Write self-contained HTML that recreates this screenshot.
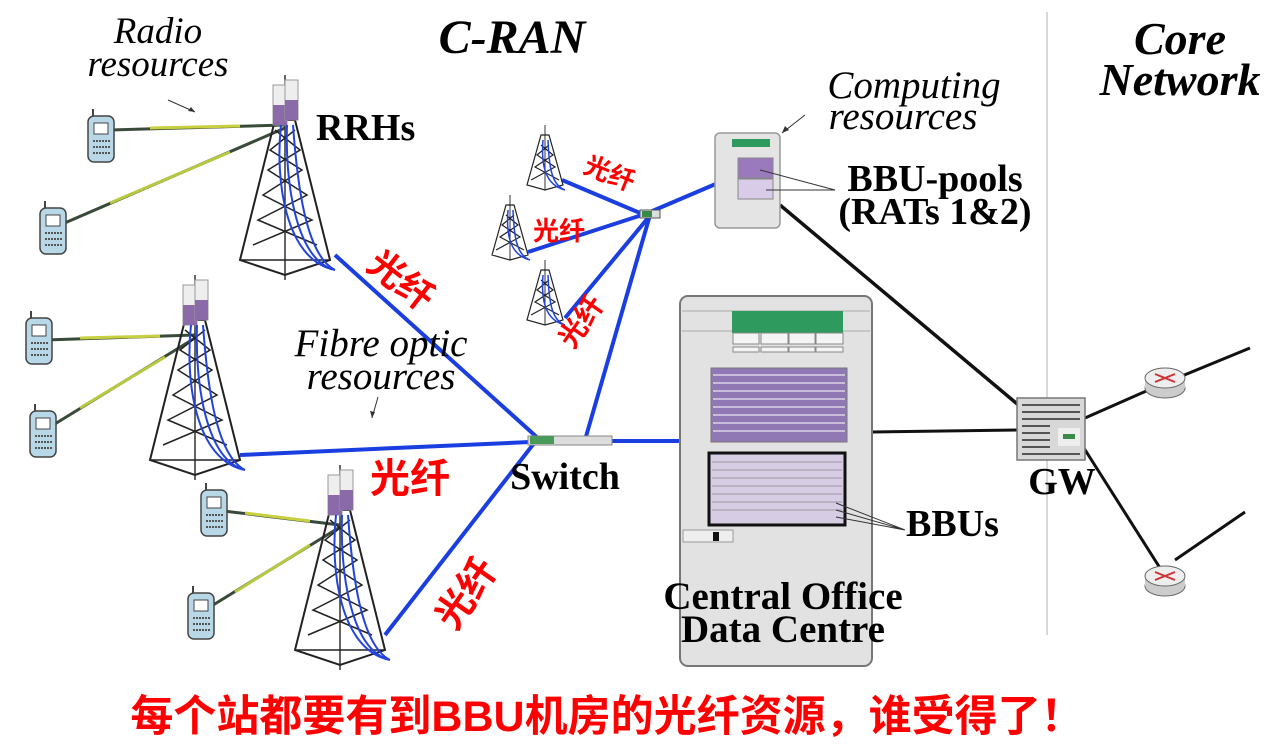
<!DOCTYPE html>
<html><head><meta charset="utf-8"><style>
body{margin:0;background:#fff;}
svg{display:block}
.it{font-family:"Liberation Serif",serif;font-style:italic;}
.b{font-family:"Liberation Serif",serif;font-weight:bold;}
.cn{font-family:"Liberation Sans","Noto Sans CJK SC",sans-serif;font-weight:bold;fill:#f00;}
</style></head><body>
<svg width="1268" height="748" viewBox="0 0 1268 748" xmlns="http://www.w3.org/2000/svg">
<defs>
<g id="tower">
 <line x1="0" y1="-45" x2="0" y2="160" stroke="#333" stroke-width="1.5"/>
 <path d="M-10 0 L-45 140 L0 155 L45 140 L10 0 Z" fill="none" stroke="#222" stroke-width="2"/>
 <path d="M-10 10 L15 30 L-17 50 L22 75 L-27 100 L32 125 M10 10 L-15 30 L17 50 L-22 75 L27 100 L-32 125 M-45 140 L45 140" fill="none" stroke="#222" stroke-width="1.5"/>
 <rect x="-12" y="-35" width="14" height="40" fill="#eee" stroke="#999"/>
 <rect x="-12" y="-15" width="14" height="20" fill="#8a6aa8"/>
 <rect x="0" y="-40" width="13" height="40" fill="#eee" stroke="#999"/>
 <rect x="0" y="-20" width="13" height="20" fill="#8a6aa8"/>
 <path d="M-4 5 C-10 60 0 140 50 150 M2 5 C0 60 10 140 50 150 M8 5 C12 60 20 135 50 150" fill="none" stroke="#2244dd" stroke-width="2"/>
</g>
<g id="stower">
 <line x1="0" y1="-10" x2="0" y2="55" stroke="#333"/>
 <path d="M-4 0 L-18 50 L0 55 L18 50 L4 0Z M-4 10 L8 20 L-10 32 L14 45 M4 10 L-8 20 L10 32 L-14 45" fill="none" stroke="#222" stroke-width="1.2"/>
 <path d="M-2 5 C-4 30 0 50 20 55 M3 5 C4 30 6 50 20 55" fill="none" stroke="#2244dd" stroke-width="1.5"/>
</g>
<g id="phone">
 <rect x="-12" y="-22" width="26" height="46" rx="6" fill="#b8d8e8" stroke="#444" stroke-width="1.5"/>
 <rect x="-6" y="-15" width="14" height="11" fill="#fff" stroke="#444"/>
 <line x1="-7" y1="3" x2="10" y2="3" stroke="#555" stroke-width="2" stroke-dasharray="2 1"/>
 <line x1="-7" y1="9" x2="10" y2="9" stroke="#555" stroke-width="2" stroke-dasharray="2 1"/>
 <line x1="-7" y1="15" x2="10" y2="15" stroke="#555" stroke-width="2" stroke-dasharray="2 1"/>
 <line x1="-7" y1="-22" x2="-7" y2="-29" stroke="#444" stroke-width="2"/>
</g>
<g id="router">
 <ellipse cx="0" cy="8" rx="20" ry="10" fill="#ccc" stroke="#666"/>
 <rect x="-20" y="-2" width="40" height="10" fill="#ccc"/>
 <ellipse cx="0" cy="-2" rx="20" ry="10" fill="#eee" stroke="#666"/>
 <path d="M-10 -6 L10 2 M-10 2 L10 -6" stroke="#c33" stroke-width="2"/>
</g>
</defs>

<line x1="1047" y1="12" x2="1047" y2="635" stroke="#ccc" stroke-width="1.5"/>

<g stroke-width="3" fill="none">
 <path d="M110 130 L285 125" stroke="#3a4a3a"/><path d="M150 128 L240 126" stroke="#c8d040"/>
 <path d="M60 225 L285 128" stroke="#3a4a3a"/><path d="M110 203 L230 152" stroke="#b8c840"/>
 <path d="M45 340 L195 335" stroke="#3a4a3a"/><path d="M80 338 L160 336" stroke="#c8d040"/>
 <path d="M45 430 L195 338" stroke="#3a4a3a"/><path d="M80 408 L165 357" stroke="#b8c840"/>
 <path d="M215 510 L340 525" stroke="#3a4a3a"/><path d="M245 513 L310 521" stroke="#c8d040"/>
 <path d="M205 610 L340 527" stroke="#3a4a3a"/><path d="M235 592 L310 545" stroke="#b8c840"/>
</g>
<use href="#phone" x="100" y="138"/>
<use href="#phone" x="52" y="230"/>
<use href="#phone" x="38" y="340"/>
<use href="#phone" x="42" y="433"/>
<use href="#phone" x="213" y="512"/>
<use href="#phone" x="200" y="615"/>

<g stroke="#1a3ee0" stroke-width="4" fill="none">
 <path d="M335 255 L540 440"/>
 <path d="M240 455 L530 442"/>
 <path d="M385 635 L535 442"/>
 <path d="M585 440 L650 215"/>
 <path d="M610 441 L682 441"/>
 <path d="M650 212 L718 183"/>
 <path d="M562 180 L640 213"/>
 <path d="M528 252 L642 215"/>
 <path d="M565 318 L648 218"/>
</g>

<use href="#tower" x="285" y="120"/>
<use href="#tower" x="195" y="320"/>
<use href="#tower" x="340" y="510"/>
<use href="#stower" x="545" y="135"/>
<use href="#stower" x="510" y="205"/>
<use href="#stower" x="545" y="270"/>

<rect x="528" y="436" width="84" height="9" fill="#ddd" stroke="#888"/>
<rect x="530" y="436" width="24" height="8" fill="#4a9a5a"/>
<rect x="640" y="210" width="20" height="8" fill="#ddd" stroke="#555"/>
<rect x="642" y="211" width="10" height="6" fill="#3a8a4a"/>

<path d="M780 205 L1022 408" stroke="#111" stroke-width="3.5" fill="none"/>
<path d="M872 432 L1020 430" stroke="#111" stroke-width="3" fill="none"/>
<path d="M1085 418 L1160 385 L1250 348 M1082 445 L1160 568 M1175 560 L1245 512" stroke="#111" stroke-width="3" fill="none"/>

<rect x="715" y="133" width="65" height="95" rx="5" fill="#e4e4e4" stroke="#999" stroke-width="1.5"/>
<rect x="732" y="139" width="38" height="8" fill="#2e9a5e"/>
<rect x="738" y="158" width="35" height="20" fill="#9a7abc" stroke="#888"/>
<rect x="738" y="179" width="35" height="20" fill="#d8cce8" stroke="#888"/>
<path d="M760 170 L835 190 M766 190 L835 190" stroke="#333" stroke-width="1"/>

<rect x="680" y="296" width="192" height="370" rx="8" fill="#e2e2e2" stroke="#777" stroke-width="2"/>
<line x1="682" y1="311" x2="870" y2="311" stroke="#aaa"/>
<line x1="682" y1="331" x2="870" y2="331" stroke="#aaa"/>
<rect x="732" y="311" width="111" height="22" fill="#2e9a5e"/>
<g fill="#f4f4f4" stroke="#888"><rect x="733" y="333" width="26" height="11"/><rect x="761" y="333" width="27" height="11"/><rect x="789" y="333" width="26" height="11"/><rect x="816" y="333" width="27" height="11"/>
<rect x="733" y="347" width="26" height="5"/><rect x="761" y="347" width="27" height="5"/><rect x="789" y="347" width="26" height="5"/><rect x="816" y="347" width="27" height="5"/></g>
<rect x="711" y="368" width="136" height="74" fill="#8f78b4" stroke="#777"/>
<g stroke="#c8bcd8" stroke-width="2"><line x1="713" y1="375" x2="845" y2="375"/><line x1="713" y1="383" x2="845" y2="383"/><line x1="713" y1="391" x2="845" y2="391"/><line x1="713" y1="399" x2="845" y2="399"/><line x1="713" y1="407" x2="845" y2="407"/><line x1="713" y1="415" x2="845" y2="415"/><line x1="713" y1="423" x2="845" y2="423"/><line x1="713" y1="431" x2="845" y2="431"/></g>
<rect x="709" y="453" width="136" height="72" fill="#d6cce4" stroke="#111" stroke-width="3"/>
<g stroke="#b0a8b8" stroke-width="1.5"><line x1="712" y1="462" x2="842" y2="462"/><line x1="712" y1="470" x2="842" y2="470"/><line x1="712" y1="478" x2="842" y2="478"/><line x1="712" y1="486" x2="842" y2="486"/><line x1="712" y1="494" x2="842" y2="494"/><line x1="712" y1="502" x2="842" y2="502"/><line x1="712" y1="510" x2="842" y2="510"/></g>
<rect x="683" y="530" width="50" height="12" fill="#eee" stroke="#999"/>
<rect x="713" y="532" width="6" height="9" fill="#111"/>
<path d="M836 503 L905 530 M836 510 L905 530 M836 517 L905 530" stroke="#333"/>

<rect x="1017" y="398" width="68" height="62" fill="#d8d8d8" stroke="#777" stroke-width="1.5"/>
<g stroke="#555" stroke-width="2"><line x1="1022" y1="405" x2="1080" y2="405"/><line x1="1022" y1="412" x2="1080" y2="412"/><line x1="1022" y1="419" x2="1080" y2="419"/><line x1="1022" y1="426" x2="1050" y2="426"/><line x1="1022" y1="433" x2="1050" y2="433"/><line x1="1022" y1="440" x2="1050" y2="440"/><line x1="1022" y1="447" x2="1050" y2="447"/><line x1="1022" y1="454" x2="1080" y2="454"/></g>
<rect x="1058" y="428" width="22" height="18" fill="#eee"/><rect x="1063" y="434" width="12" height="5" fill="#3a8a4a"/>
<use href="#router" x="1165" y="380"/>
<use href="#router" x="1165" y="578"/>

<path d="M168 100 L195 112" stroke="#333"/><path d="M195 112 l-7 -1 l3 -4z" fill="#333"/>
<path d="M805 115 L782 133" stroke="#333"/><path d="M782 133 l3 -7 l4 4z" fill="#333"/>
<path d="M378 397 L372 418" stroke="#333"/><path d="M372 418 l-2 -7 l5 1z" fill="#333"/>

<text x="512" y="53" class="it" font-weight="bold" font-size="48" text-anchor="middle">C-RAN</text>
<text x="1180" y="54" class="it" font-weight="bold" font-size="46" text-anchor="middle">Core</text>
<text x="1180" y="95" class="it" font-weight="bold" font-size="46" text-anchor="middle">Network</text>
<text x="158" y="43" class="it" font-size="37" text-anchor="middle">Radio</text>
<text x="158" y="76" class="it" font-size="37" text-anchor="middle">resources</text>
<text x="914" y="98" class="it" font-size="39" text-anchor="middle">Computing</text>
<text x="903" y="129" class="it" font-size="39" text-anchor="middle">resources</text>
<text x="381" y="356" class="it" font-size="39" text-anchor="middle">Fibre optic</text>
<text x="381" y="389" class="it" font-size="39" text-anchor="middle">resources</text>
<text x="316" y="140" class="b" font-size="38">RRHs</text>
<text x="935" y="191" class="b" font-size="38" text-anchor="middle">BBU-pools</text>
<text x="935" y="224" class="b" font-size="38" text-anchor="middle">(RATs 1&amp;2)</text>
<text x="565" y="489" class="b" font-size="38" text-anchor="middle">Switch</text>
<text x="1062" y="494" class="b" font-size="38" text-anchor="middle">GW</text>
<text x="906" y="536" class="b" font-size="38">BBUs</text>
<text x="783" y="609" class="b" font-size="39" text-anchor="middle">Central Office</text>
<text x="783" y="642" class="b" font-size="39" text-anchor="middle">Data Centre</text>

<text class="cn" font-size="36" transform="translate(365 268) rotate(38)">光纤</text>
<text class="cn" font-size="40" x="370" y="492">光纤</text>
<text class="cn" font-size="38" transform="translate(455 632) rotate(-55)">光纤</text>
<text class="cn" font-size="26" transform="translate(582 172) rotate(22)">光纤</text>
<text class="cn" font-size="26" x="533" y="240">光纤</text>
<text class="cn" font-size="28" transform="translate(573 350) rotate(-55)">光纤</text>
<text class="cn" font-size="43" x="607" y="731" text-anchor="middle">每个站都要有到BBU机房的光纤资源，谁受得了！</text>
</svg>
</body></html>
